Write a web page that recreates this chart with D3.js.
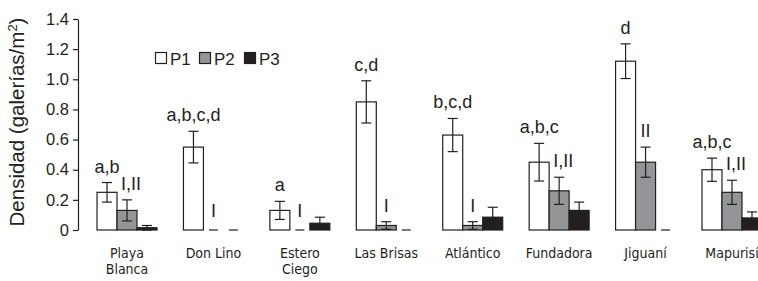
<!DOCTYPE html>
<html>
<head>
<meta charset="utf-8">
<script src="https://cdn.jsdelivr.net/npm/d3@7"></script>
<style>
  body { margin: 0; background: #fff; }
  text { fill: #231f20; font-family: "Liberation Sans", Arial, sans-serif; }
</style>
</head>
<body>
<div id="chart"></div>
<script>
var SITES = ['Playa Blanca', 'Don Lino', 'Estero Ciego', 'Las Brisas', 'Atlántico', 'Fundadora', 'Jiguaní', 'Mapurisí']
var SERIES = ['P1', 'P2', 'P3']
var p1 = [0.25, 0.55, 0.13, 0.85, 0.63, 0.45, 1.12, 0.40]
var p1Err = [0.065, 0.105, 0.06, 0.14, 0.11, 0.125, 0.115, 0.077]
var p2 = [0.13, 0, 0, 0.03, 0.03, 0.26, 0.45, 0.25]
var p2Err = [0.07, 0, 0, 0.025, 0.025, 0.09, 0.10, 0.08]
var p3 = [0.015, 0, 0.045, 0, 0.085, 0.13, 0, 0.08]
var p3Err = [0.015, 0, 0.04, 0, 0.066, 0.055, 0, 0.04]
var p1Letters = ['a,b', 'a,b,c,d', 'a', 'c,d', 'b,c,d', 'a,b,c', 'd', 'a,b,c']
var p2Letters = ['I,II', 'I', 'I', 'I', 'I', 'I,II', 'II', 'I,II']
var Y_TICKS = [0, 0.2, 0.4, 0.6, 0.8, 1.0, 1.2, 1.4]

var COLORS = { P1: '#ffffff', P2: '#939598', P3: '#231f20' }
var INK = '#231f20'

var width = 758, height = 281
var svg = d3.select('#chart').append('svg')
    .attr('width', width)
    .attr('height', height)

// scales
var y = d3.scaleLinear().domain([0, 1.4]).range([230, 19])
var x0 = d3.scaleBand()
    .domain(SITES)
    .range([83.8, 775.2])
    .paddingInner(0.306)
    .paddingOuter(0.153)
var x1 = d3.scaleBand().domain(SERIES).range([0, x0.bandwidth()])

// y axis
var yAxis = svg.append('g')
    .attr('transform', 'translate(78,0)')
    .call(d3.axisLeft(y)
      .tickValues(Y_TICKS)
      .tickSize(5)
      .tickSizeOuter(0)
      .tickPadding(4)
      .tickFormat(function(d) { return d === 0 ? '0' : d3.format('.1f')(d) }))
yAxis.select('.domain').attr('stroke', INK).attr('stroke-width', 1.2)
yAxis.selectAll('.tick line').attr('stroke', INK).attr('stroke-width', 1.2)
yAxis.selectAll('.tick text').style('font-size', '16.5px').attr('fill', INK)

svg.append('text')
    .attr('transform', 'translate(24,' + 122 + ') rotate(-90)')
    .attr('text-anchor', 'middle')
    .style('font-size', '20.5px')
    .html('Densidad (galerías/m<tspan dy="-7" style="font-size:13px">2</tspan><tspan dy="7">)</tspan>')

// rows
var rows = []
SITES.forEach(function(s, i) {
  rows.push({ site: s, key: 'P1', v: p1[i], e: p1Err[i], label: p1Letters[i] })
  rows.push({ site: s, key: 'P2', v: p2[i], e: p2Err[i], label: p2Letters[i] })
  rows.push({ site: s, key: 'P3', v: p3[i], e: p3Err[i], label: null })
})
function cx(d) { return x0(d.site) + x1(d.key) + x1.bandwidth() / 2 }

// bars
svg.selectAll('rect.bar')
    .data(rows.filter(function(d) { return d.v > 0 }))
    .enter().append('rect')
      .attr('class', 'bar')
      .attr('x', function(d) { return x0(d.site) + x1(d.key) })
      .attr('y', function(d) { return y(d.v) })
      .attr('width', x1.bandwidth())
      .attr('height', function(d) { return y(0) - y(d.v) })
      .attr('fill', function(d) { return COLORS[d.key] })
      .attr('stroke', INK)
      .attr('stroke-width', 1.2)

// zero values as short dashes
svg.selectAll('line.zero')
    .data(rows.filter(function(d) { return d.v === 0 }))
    .enter().append('line')
      .attr('x1', function(d) { return cx(d) - 4.5 })
      .attr('x2', function(d) { return cx(d) + 4.5 })
      .attr('y1', y(0)).attr('y2', y(0))
      .attr('stroke', INK)
      .attr('stroke-width', 1.2)

// error bars
var err = svg.selectAll('g.err')
    .data(rows.filter(function(d) { return d.e > 0 }))
    .enter().append('g')
      .attr('stroke', INK)
      .attr('stroke-width', 1.2)
err.append('line')
    .attr('x1', cx).attr('x2', cx)
    .attr('y1', function(d) { return y(d.v + d.e) })
    .attr('y2', function(d) { return y(Math.max(0, d.v - d.e)) })
err.append('line')
    .attr('x1', function(d) { return cx(d) - 5 })
    .attr('x2', function(d) { return cx(d) + 5 })
    .attr('y1', function(d) { return y(d.v + d.e) })
    .attr('y2', function(d) { return y(d.v + d.e) })
err.append('line')
    .attr('x1', function(d) { return cx(d) - 5 })
    .attr('x2', function(d) { return cx(d) + 5 })
    .attr('y1', function(d) { return y(Math.max(0, d.v - d.e)) })
    .attr('y2', function(d) { return y(Math.max(0, d.v - d.e)) })

// significance letters
svg.selectAll('text.sig')
    .data(rows.filter(function(d) { return d.label }))
    .enter().append('text')
      .attr('class', 'sig')
      .attr('x', function(d) { return cx(d) + (d.label === 'I,II' ? 4 : 0) })
      .attr('y', function(d) { return d.v > 0 ? y(d.v + d.e) - 10 : y(0) - 13 })
      .attr('text-anchor', 'middle')
      .style('font-size', '18px')
      .text(function(d) { return d.label })

// category labels
svg.selectAll('text.cat')
    .data(SITES)
    .enter().append('text')
      .attr('text-anchor', 'middle')
      .style('font-family', '"DejaVu Sans Condensed", "DejaVu Sans", sans-serif')
      .style('font-stretch', 'condensed')
      .style('font-size', '14px')
      .each(function(d) {
        var words = d.split(' ')
        var lines = d === 'Las Brisas' || d === 'Don Lino' ? [d] : words
        var t = d3.select(this)
        lines.forEach(function(w, i) {
          t.append('tspan')
            .attr('x', x0(d) + x0.bandwidth() / 2)
            .attr('y', 258 + i * 16)
            .text(w)
        })
      })

// legend
var legend = svg.append('g').attr('transform', 'translate(155,52)')
var lx = [0, 44, 89]
SERIES.forEach(function(k, i) {
  legend.append('rect')
      .attr('x', lx[i] + 0.5).attr('y', 0.5)
      .attr('width', 11).attr('height', 11)
      .attr('fill', COLORS[k])
      .attr('stroke', INK)
      .attr('stroke-width', 1.2)
  legend.append('text')
      .attr('x', lx[i] + 15)
      .attr('y', 12.5)
      .style('font-size', '17px')
      .text(k)
})
</script>
</body>
</html>
